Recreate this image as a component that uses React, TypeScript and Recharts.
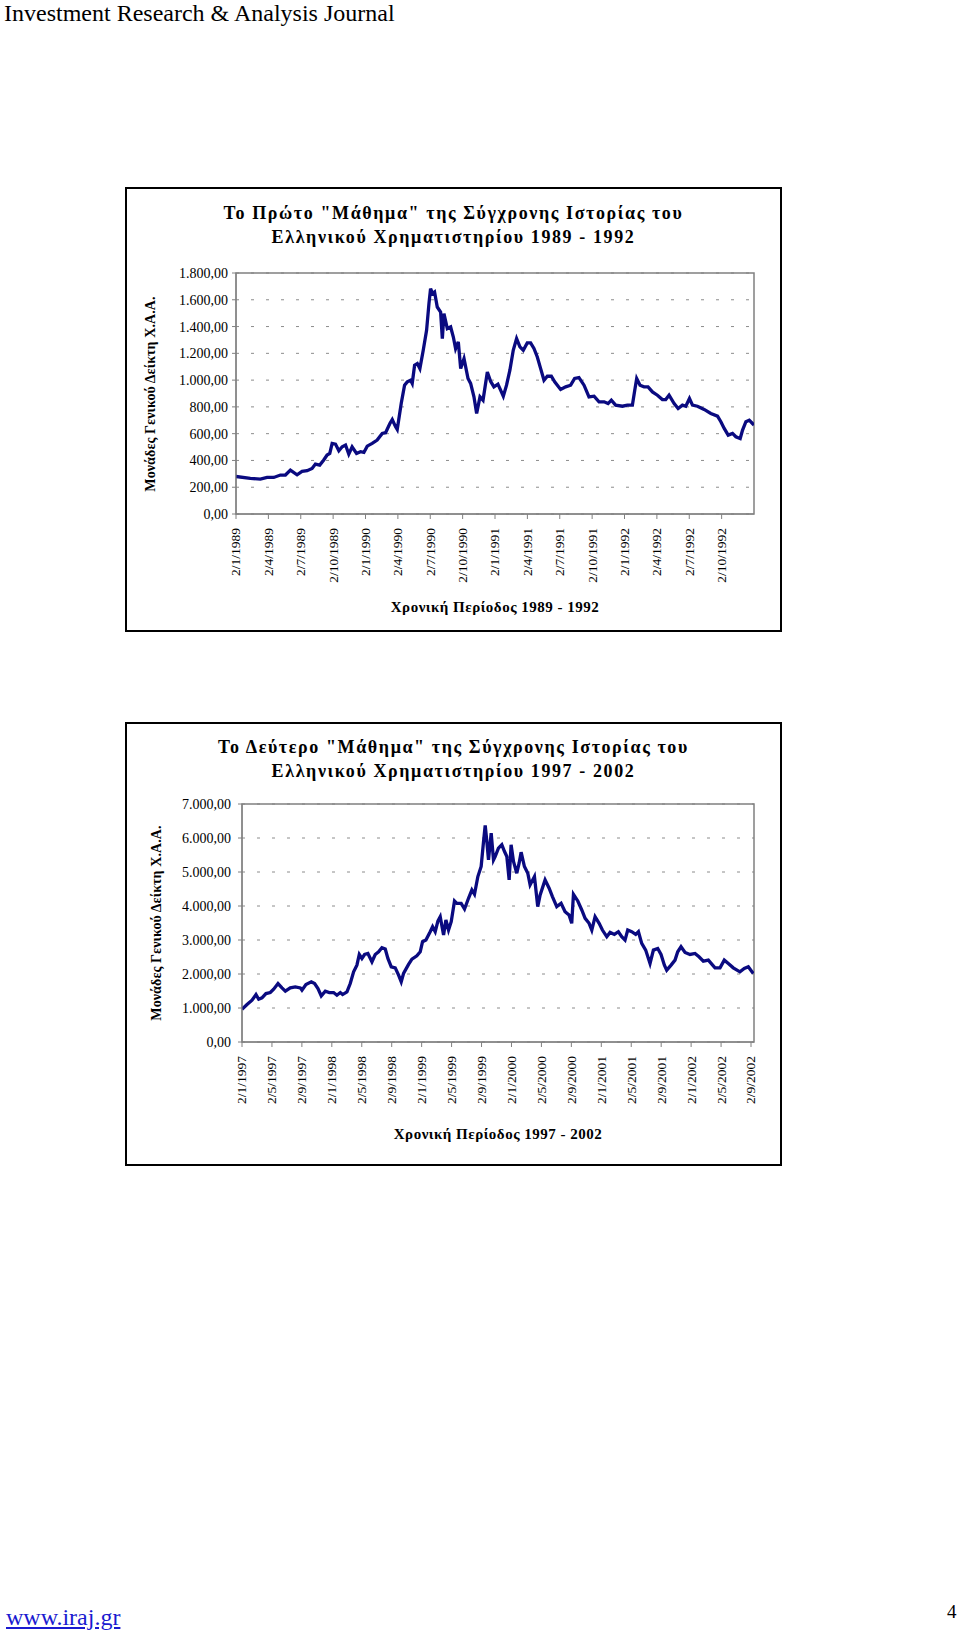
import { LineChart, Line, XAxis, YAxis, CartesianGrid, ReferenceArea } from 'recharts';

// 1989 - 1992: months since 2/1/1989 and index level
const months1 = [
  0, 1.33, 2.26, 2.88, 3.5, 4.11, 4.58, 5.04, 5.66, 6.12, 6.59, 7.05, 7.36, 7.76, 8.13, 8.44, 8.69, 8.91,
  9.22, 9.53, 9.84, 10.15, 10.45, 10.76, 11.17, 11.54, 11.85, 12.16, 12.62, 13.08, 13.55, 13.86, 14.26,
  14.48, 14.79, 14.94, 15.31, 15.62, 15.87, 16.18, 16.33, 16.55, 16.8, 17.04, 17.35, 17.66, 17.88, 18.03,
  18.22, 18.4, 18.65, 18.96, 19.12, 19.27, 19.58, 19.89, 20.14, 20.35, 20.6, 20.82, 21.13, 21.5, 21.74,
  22.05, 22.3, 22.61, 22.89, 23.29, 23.6, 23.9, 24.27, 24.52, 24.77, 25.07, 25.38, 25.69, 26.0, 26.31,
  26.62, 26.99, 27.3, 27.61, 27.92, 28.23, 28.54, 28.85, 29.22, 29.53, 30.08, 30.55, 31.01, 31.38, 31.78,
  32.25, 32.71, 33.18, 33.64, 34.11, 34.48, 34.78, 35.18, 35.81, 36.27, 36.73, 36.95, 37.13, 37.44, 37.81,
  38.18, 38.59, 39.05, 39.51, 39.82, 40.13, 40.6, 40.97, 41.37, 41.68, 42.02, 42.3, 42.76, 43.38, 44.0,
  44.62, 44.93, 45.24, 45.61, 46.01, 46.32, 46.72, 46.94, 47.25, 47.56, 47.86, 48,
];
const index1 = [
  280, 266, 261, 273, 273, 291, 291, 328, 293, 318, 323, 340, 373, 365, 403, 440, 452, 527,
  522, 472, 502, 515, 447, 502, 452, 465, 460, 507, 527, 552, 602, 607, 676,
  706, 651, 631, 825, 962, 987, 999, 975, 1111, 1124, 1086, 1223, 1372, 1571, 1683,
  1646, 1658, 1546, 1509, 1310, 1497, 1385, 1397, 1322, 1235, 1285, 1086, 1161, 1012, 975,
  875, 751, 875, 850, 1061, 990, 950, 970, 925, 880, 962, 1074, 1223, 1310, 1248,
  1223, 1278, 1278, 1236, 1173, 1086, 999, 1029, 1029, 987, 930, 950, 962, 1012, 1019,
  962, 875, 880, 838, 838, 825, 850, 813, 805, 813, 813, 925, 1012, 962, 950,
  950, 912, 887, 855, 855, 887, 825, 788, 813, 805, 863, 813, 805, 781, 751,
  731, 689, 639, 589, 602, 577, 564, 627, 689, 701, 676, 664,
];
const xTicks1 = [0, 3, 6, 9, 12, 15, 18, 21, 24, 27, 30, 33, 36, 39, 42, 45];
const xLabels1 = [
  '2/1/1989', '2/4/1989', '2/7/1989', '2/10/1989', '2/1/1990', '2/4/1990', '2/7/1990', '2/10/1990',
  '2/1/1991', '2/4/1991', '2/7/1991', '2/10/1991', '2/1/1992', '2/4/1992', '2/7/1992', '2/10/1992',
];
const yTicks1 = [0, 200, 400, 600, 800, 1000, 1200, 1400, 1600, 1800];

// 1997 - 2002: months since 2/1/1997
const months2 = [
  0, 0.67, 1.34, 1.87, 2.23, 2.67, 3.2, 3.78, 4.23, 4.81, 5.34, 5.79, 6.45, 7.12, 7.79, 8.01, 8.54, 9.26,
  9.7, 10.15, 10.59, 11.13, 11.66, 12.24, 12.68, 13.13, 13.44, 14.02, 14.46, 14.91, 15.35, 15.67, 16.02,
  16.38, 16.82, 17.36, 17.8, 18.25, 18.69, 19.14, 19.49, 19.94, 20.47, 20.92, 21.27, 21.58, 22.25, 22.7,
  23.36, 23.81, 24.12, 24.57, 25.14, 25.46, 25.81, 26.17, 26.48, 26.93, 27.24, 27.59, 27.95, 28.39, 28.7,
  29.28, 29.73, 30.26, 30.71, 31.06, 31.51, 31.95, 32.27, 32.49, 32.71, 32.93, 33.29, 33.6, 33.82, 34.26,
  34.71, 35.07, 35.38, 35.69, 35.95, 36.27, 36.71, 37.02, 37.29, 37.73, 38.18, 38.49, 39.07, 39.51, 39.83,
  40.49, 41.03, 41.47, 42.05, 42.63, 43.16, 43.69, 44.05, 44.28, 44.86, 45.39, 45.84, 46.37, 46.73, 47.17,
  47.71, 48.15, 48.73, 49.17, 49.75, 50.28, 50.73, 51.17, 51.53, 52.06, 52.6, 52.96, 53.4, 53.93, 54.51,
  54.96, 55.54, 55.98, 56.43, 56.74, 57.32, 57.85, 58.21, 58.65, 59.19, 59.85, 60.52, 61.05, 61.63, 62.3,
  63.19, 63.86, 64.43, 64.97, 65.63, 66.52, 67.1, 67.64, 68.3,
];
const index2 = [
  963, 1101, 1229, 1396, 1258, 1298, 1425, 1455, 1553, 1720, 1592, 1494, 1592, 1622, 1592, 1524, 1691, 1769,
  1720, 1573, 1357, 1494, 1455, 1455, 1376, 1455, 1396, 1475, 1720, 2064, 2261, 2575, 2458,
  2575, 2605, 2359, 2575, 2654, 2772, 2733, 2458, 2212, 2182, 1966, 1769, 2015, 2281, 2438,
  2536, 2654, 2949, 2998, 3244, 3391, 3244, 3558, 3686, 3146, 3588, 3293, 3539, 4148, 4079,
  4079, 3912, 4227, 4473, 4345, 4866, 5161, 5898, 6370, 5898, 5357, 6144, 5357, 5456, 5701,
  5800, 5603, 5456, 4768, 5800, 5308, 4964, 5259, 5583, 5161, 4964, 4620, 4866, 3981, 4325,
  4768, 4522, 4276, 3981, 4079, 3834, 3735, 3490, 4345, 4148, 3883, 3637, 3490, 3293, 3686,
  3490, 3293, 3097, 3224, 3165, 3244, 3097, 2998, 3293, 3244, 3165, 3244, 2900, 2703, 2310,
  2703, 2752, 2575, 2261, 2113, 2261, 2408, 2654, 2801, 2634, 2575, 2605, 2507, 2379, 2408,
  2182, 2182, 2408, 2310, 2182, 2064, 2163, 2212, 2015,
];
const xTicks2 = [0, 4, 8, 12, 16, 20, 24, 28, 32, 36, 40, 44, 48, 52, 56, 60, 64, 68];
const xLabels2 = [
  '2/1/1997', '2/5/1997', '2/9/1997', '2/1/1998', '2/5/1998', '2/9/1998', '2/1/1999', '2/5/1999', '2/9/1999',
  '2/1/2000', '2/5/2000', '2/9/2000', '2/1/2001', '2/5/2001', '2/9/2001', '2/1/2002', '2/5/2002', '2/9/2002',
];
const yTicks2 = [0, 1000, 2000, 3000, 4000, 5000, 6000, 7000];

const SERIF = '"Liberation Serif", "Times New Roman", serif';

// greek number format: 1.800,00
function fmt(n: number) {
  const s = Math.round(n).toString().replace(/\B(?=(\d{3})+(?!\d))/g, '.');
  return s + ',00';
}

function RotatedTick({ x, y, payload, ticks, labels }: any) {
  const label = labels[ticks.indexOf(payload.value)] ?? '';
  return (
    <text x={x} y={y} dy="0.33em" transform={`rotate(-90 ${x} ${y})`} textAnchor="end"
      fontFamily={SERIF} fontSize={13.5} fill="#000">
      {label}
    </text>
  );
}

interface PanelProps {
  top: number;
  height: number;
  title: string[];
  xTitle: string;
  months: number[];
  values: number[];
  xMax: number;
  xTicks: number[];
  xLabels: string[];
  yTicks: number[];
  yWidth: number;
  yTickMargin: number;
  marginTop: number;
  xHeight: number;
  titleTop: number;
  xTitleY: number;
  yTitleX: number;
}

function Panel(p: PanelProps) {
  const data = p.months.map((t, i) => ({ t, v: p.values[i] }));
  const yMax = p.yTicks[p.yTicks.length - 1];
  const plotTop = p.top + p.marginTop;
  const plotBottom = p.top + p.height - p.xHeight;
  const plotLeft = 125 + p.yWidth;
  const plotRight = 125 + 657 - 28;
  return (
    <>
      <div style={{ position: 'absolute', left: 125, top: p.top, width: 657, height: p.height, border: '2px solid #000', boxSizing: 'border-box' }} />
      <div style={{ position: 'absolute', left: 125, top: p.titleTop, width: 657, textAlign: 'center', fontFamily: SERIF, fontWeight: 700, fontSize: 18, lineHeight: '24px', letterSpacing: 1.6 }}>
        {p.title.map((l, i) => <div key={i}>{l}</div>)}
      </div>
      <div style={{ position: 'absolute', left: 125, top: p.top }}>
        <LineChart width={657} height={p.height} data={data} margin={{ top: p.marginTop, right: 28, bottom: 0, left: 0 }}>
          <CartesianGrid vertical={false} strokeDasharray="3 12" stroke="#8c8c8c" />
          <ReferenceArea x1={0} x2={p.xMax} y1={0} y2={yMax} fill="#fff" fillOpacity={0} stroke="#808080" strokeWidth={1.5} />
          <XAxis dataKey="t" type="number" domain={[0, p.xMax]} ticks={p.xTicks} interval={0} height={p.xHeight}
            tickSize={5} tickMargin={9} stroke="#808080" allowDataOverflow
            tick={<RotatedTick ticks={p.xTicks} labels={p.xLabels} />} />
          <YAxis type="number" domain={[0, yMax]} ticks={p.yTicks} interval={0} width={p.yWidth}
            tickSize={4} tickMargin={p.yTickMargin} stroke="#808080" tickFormatter={fmt}
            tick={{ fontSize: 14, fontFamily: SERIF, fill: '#000' }} />
          <Line type="linear" dataKey="v" stroke="#0a0a80" strokeWidth={3.3} dot={false} isAnimationActive={false} />
        </LineChart>
      </div>
      <div style={{ position: 'absolute', left: (plotLeft + plotRight) / 2 - 200, top: p.xTitleY - 10, width: 400, height: 20, lineHeight: '20px', textAlign: 'center', fontFamily: SERIF, fontWeight: 700, fontSize: 15, letterSpacing: 0.5 }}>
        {p.xTitle}
      </div>
      <div style={{ position: 'absolute', left: p.yTitleX - 150, top: (plotTop + plotBottom) / 2 - 10, width: 300, height: 20, lineHeight: '20px', textAlign: 'center', fontFamily: SERIF, fontWeight: 700, fontSize: 14, letterSpacing: 0.1, transform: 'rotate(-90deg)' }}>
        Μονάδες Γενικού Δείκτη Χ.Α.Α.
      </div>
    </>
  );
}

export default function App() {
  return (
    <div style={{ position: 'absolute', left: 0, top: 0, width: 960, height: 1631, background: '#fff', color: '#000' }}>
      <div style={{ position: 'absolute', left: 4, top: 1, fontFamily: SERIF, fontSize: 24, lineHeight: '24px', whiteSpace: 'nowrap' }}>
        Investment Research &amp; Analysis Journal
      </div>

      <Panel top={187} height={445} title={['Το Πρώτο "Μάθημα" της Σύγχρονης Ιστορίας του', 'Ελληνικού Χρηματιστηρίου 1989 - 1992']}
        xTitle="Χρονική Περίοδος 1989 - 1992" months={months1} values={index1} xMax={48}
        xTicks={xTicks1} xLabels={xLabels1} yTicks={yTicks1} yWidth={111} yTickMargin={4}
        marginTop={86} xHeight={118} titleTop={201} xTitleY={607} yTitleX={151} />

      <Panel top={722} height={444} title={['Το Δεύτερο "Μάθημα" της Σύγχρονης Ιστορίας του', 'Ελληνικού Χρηματιστηρίου 1997 - 2002']}
        xTitle="Χρονική Περίοδος 1997 - 2002" months={months2} values={index2} xMax={68.4}
        xTicks={xTicks2} xLabels={xLabels2} yTicks={yTicks2} yWidth={117} yTickMargin={7}
        marginTop={82} xHeight={124} titleTop={735} xTitleY={1134} yTitleX={157} />

      <div style={{ position: 'absolute', left: 6, top: 1605, fontFamily: SERIF, fontSize: 24, lineHeight: '24px', color: '#1a1ad0', textDecoration: 'underline' }}>
        www.iraj.gr
      </div>
      <div style={{ position: 'absolute', left: 947, top: 1602, fontFamily: SERIF, fontSize: 19, lineHeight: '19px' }}>
        4
      </div>
    </div>
  );
}
